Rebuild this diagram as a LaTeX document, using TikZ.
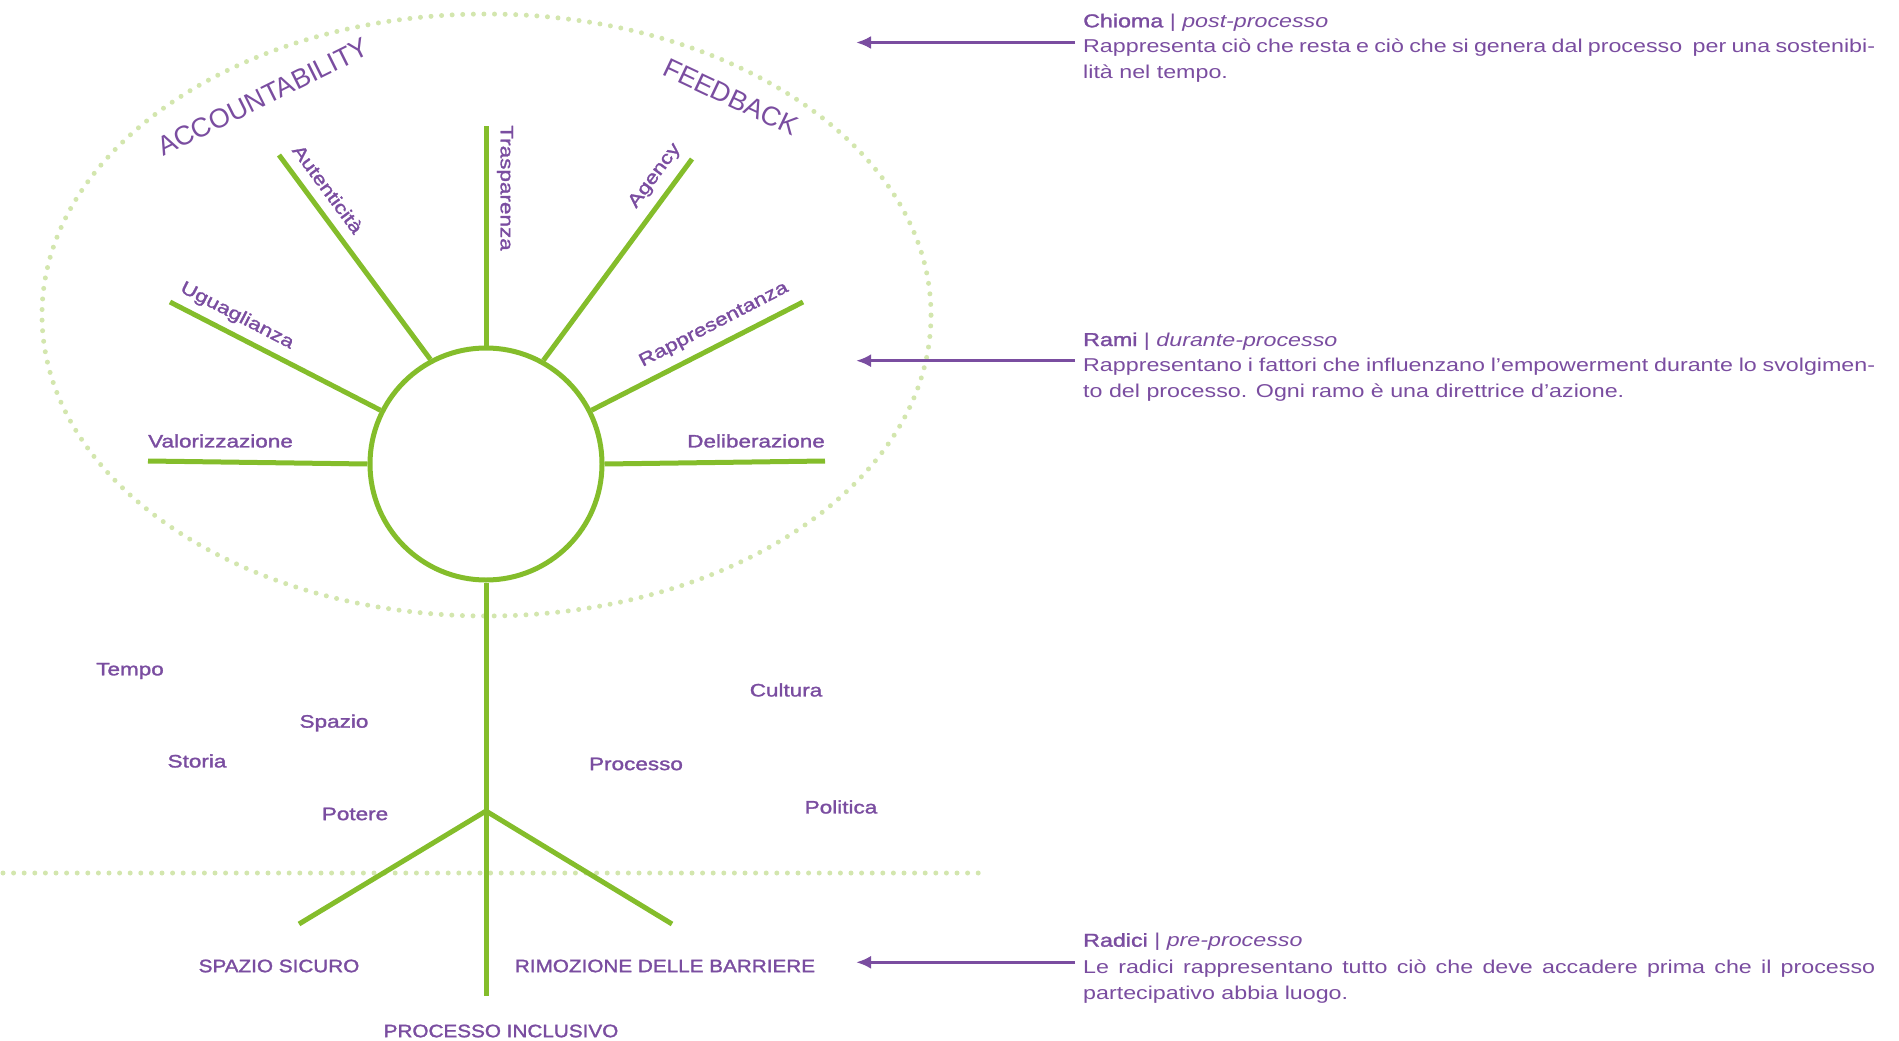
\documentclass[tikz,border=0pt]{standalone}
\usepackage{fontspec}
\setmainfont{Liberation Sans}[FakeStretch=1.25]
\newfontfamily\medfont{Liberation Sans}[FakeStretch=1.25,FakeBold=1.6]
\newfontfamily\capfont{Liberation Sans}[FakeStretch=1.15,FakeBold=1.6]
\newfontfamily\plainfont{Liberation Sans}
\usetikzlibrary{arrows.meta}
\definecolor{tgreen}{HTML}{84BD2B}
\definecolor{tpurple}{HTML}{7A4DA0}
\definecolor{tdot}{HTML}{D3E6AE}
\begin{document}
\begin{tikzpicture}[x=1pt,y=-1pt,
  branch/.style={draw=tgreen,line width=5pt},
  dotline/.style={draw=tdot,line width=5pt,line cap=round,dash pattern=on 0pt off 10.6pt},
  lab/.style={text=tpurple,font=\medfont\fontsize{18}{22}\selectfont,inner sep=0pt},
  caplab/.style={text=tpurple,font=\capfont\fontsize{18}{22}\selectfont,inner sep=0pt},
  big/.style={text=tpurple,font=\plainfont\fontsize{27}{30}\selectfont,inner sep=0pt},
  desc/.style={text=tpurple,font=\fontsize{18.6}{25.8}\selectfont,inner sep=0pt,anchor=base west,align=left},
  pointer/.style={draw=tpurple,line width=3pt,-{Latex[length=15pt,width=13pt]}}
]
\useasboundingbox (0,0) rectangle (1899,1041);

% canopy ellipse and ground line
\draw[dotline] (486.5,315) ellipse [x radius=444.5pt, y radius=301pt];
\coordinate (gl) at (3,873);
\coordinate (gr) at (981,873);
\draw[dotline] (gl) -- (gr);

% trunk circle
\node[circle,draw=tgreen,line width=5pt,minimum size=232pt,inner sep=0pt] (c) at (486,464) {};

% branch ends
\coordinate (eVal) at (148,461);
\coordinate (eUgu) at (170,302);
\coordinate (eAut) at (279,155);
\coordinate (eTra) at (486,126);
\coordinate (eAge) at (692,159);
\coordinate (eRap) at (803,302);
\coordinate (eDel) at (825,461);
\draw[branch] (c.180) -- (eVal);
\draw[branch] (c.153) -- (eUgu);
\draw[branch] (c.118) -- (eAut);
\draw[branch] (c.90) -- (eTra);
\draw[branch] (c.61) -- (eAge);
\draw[branch] (c.27) -- (eRap);
\draw[branch] (c.0) -- (eDel);

% trunk and roots
\coordinate (tfork) at (486,811);
\coordinate (tbot) at (486,996);
\coordinate (rl) at (299,924);
\coordinate (rr) at (672,924);
\draw[branch] (c.270) -- (tbot);
\draw[branch] (rl) -- (tfork) -- (rr);

% canopy labels
\node[big,rotate=26.4] (acc) at (263,97) {ACCOUNTABILITY};
\node[big,rotate=-25.3] (fb) at (731,97) {FEEDBACK};

% branch labels
\node[lab,anchor=west] (lVal) at (148,441) {Valorizzazione};
\node[lab,anchor=east] (lDel) at (825,441) {Deliberazione};
\node[lab,rotate=-27.4] (lUgu) at (237,316) {Uguaglianza};
\node[lab,rotate=-53.6] (lAut) at (328,189) {Autenticità};
\node[lab,rotate=-90] (lTra) at (505,188) {Trasparenza};
\node[lab,rotate=53.5] (lAge) at (655,176) {Agency};
\node[lab,rotate=27.4] (lRap) at (714,325) {Rappresentanza};

% context labels
\node[lab] (tempo) at (130,671) {Tempo};
\node[lab] (spazio) at (334,723) {Spazio};
\node[lab] (storia) at (197,761) {Storia};
\node[lab] (potere) at (355,814) {Potere};
\node[lab] (cultura) at (786,690) {Cultura};
\node[lab] (processo) at (636,764) {Processo};
\node[lab] (politica) at (841,807) {Politica};

% root labels
\node[caplab] (sicuro) at (279,966) {SPAZIO SICURO};
\node[caplab] (barriere) at (665,966) {RIMOZIONE DELLE BARRIERE};
\node[caplab] (inclusivo) at (501,1031) {PROCESSO INCLUSIVO};

% descriptions
\node[desc] (hChioma) at (1083,27.3) {{\medfont Chioma} | \textit{post-processo}};
\node[desc] (tChioma) at (1083,78.7) {\makebox[792pt][s]{Rappresenta ciò che resta e ciò che si genera dal processo\ \ per una sostenibi-}\\lità nel tempo.};
\node[desc] (hRami) at (1083,346) {{\medfont Rami} | \textit{durante-processo}};
\node[desc] (tRami) at (1083,397.3) {\makebox[792pt][s]{Rappresentano i fattori che influenzano l’empowerment durante lo svolgimen-}\\to del processo. Ogni ramo è una direttrice d’azione.};
\node[desc] (hRadici) at (1083,946.7) {{\medfont Radici} | \textit{pre-processo}};
\node[desc] (tRadici) at (1083,999.3) {\makebox[792pt][s]{Le radici rappresentano tutto ciò che deve accadere prima che il processo}\\partecipativo abbia luogo.};

% pointers
\coordinate (s1) at (1075,42.5);
\coordinate (a1) at (856,42.5);
\coordinate (s2) at (1075,360.7);
\coordinate (a2) at (856,360.7);
\coordinate (s3) at (1075,962.3);
\coordinate (a3) at (856,962.3);
\draw[pointer] (s1) -- (a1);
\draw[pointer] (s2) -- (a2);
\draw[pointer] (s3) -- (a3);
\end{tikzpicture}
\end{document}
